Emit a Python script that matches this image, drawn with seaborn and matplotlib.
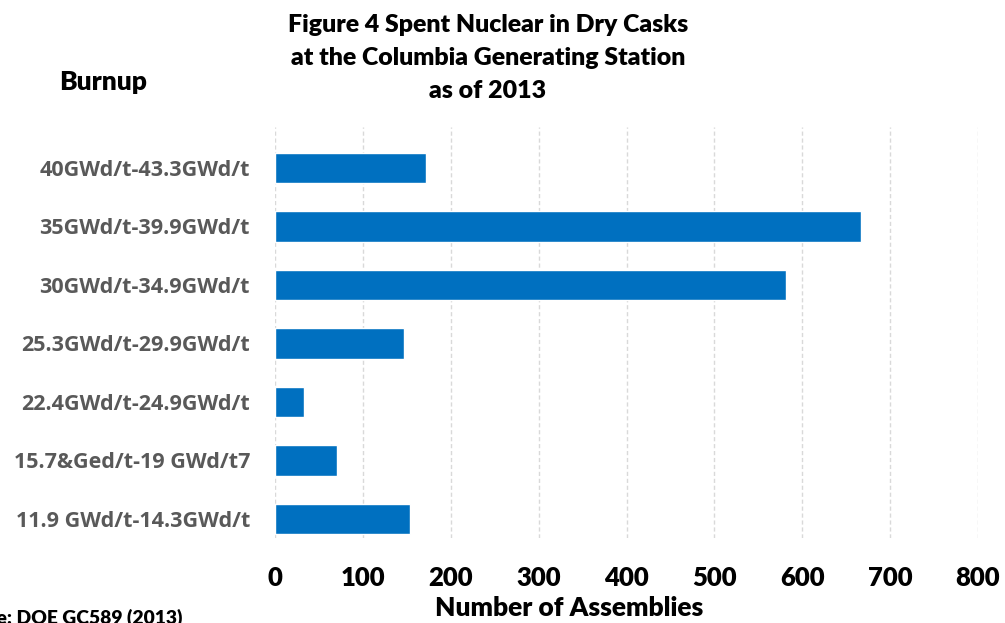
import matplotlib
matplotlib.use("Agg")
import matplotlib.pyplot as plt
import seaborn as sns
import pandas as pd

categories = [
    "40GWd/t-43.3GWd/t",
    "35GWd/t-39.9GWd/t",
    "30GWd/t-34.9GWd/t",
    "25.3GWd/t-29.9GWd/t",
    "22.4GWd/t-24.9GWd/t",
    "15.7&Ged/t-19 GWd/t7",
    "11.9 GWd/t-14.3GWd/t",
]
assemblies = [172, 667, 581, 147, 33, 70, 154]
x_ticks = [0, 100, 200, 300, 400, 500, 600, 700, 800]

df = pd.DataFrame({"Burnup": categories, "Assemblies": assemblies})

sns.set_theme(style="white")
plt.rcParams["font.family"] = ["Lato", "DejaVu Sans"]

fig = plt.figure(figsize=(10.05, 6.23), dpi=100)
ax = fig.add_axes([275 / 1005, (623 - 538) / 623, (978 - 275) / 1005, (538 - 127) / 623])

sns.barplot(data=df, y="Burnup", x="Assemblies", orient="h", color="#0070C0",
            saturation=1, width=0.52, ax=ax, zorder=3)

ax.set_xlim(0, 800)
ax.set_ylim(6.325, -0.70)
ax.set_xticks(x_ticks)
ax.set_xticklabels([str(t) for t in x_ticks], fontsize=18.5, fontweight="heavy", color="black")
ax.set_yticks(range(len(categories)))
ax.set_yticklabels(categories, fontsize=15.5, fontweight="bold", color="#595959",
                   family=["Open Sans", "DejaVu Sans"])
ax.tick_params(axis="x", length=0, pad=20)
ax.tick_params(axis="y", length=0, pad=18)
ax.grid(axis="x", color="#D9D9D9", linestyle=(0, (3, 2)), linewidth=1, zorder=0)
ax.grid(axis="y", visible=False)
for s in ax.spines.values():
    s.set_visible(False)
ax.set_ylabel("")
ax.set_xlabel("")

fig.text(569 / 1005, 1 - 608 / 623, "Number of Assemblies", ha="center", va="center",
         fontsize=19, fontweight="heavy", color="black")
fig.text(488 / 1005, 1 - 58 / 623,
         "Figure 4 Spent Nuclear in Dry Casks\nat the Columbia Generating Station\nas of 2013",
         ha="center", va="center", fontsize=17.9, fontweight="heavy", color="black",
         linespacing=1.62)
fig.text(103 / 1005, 1 - 82 / 623, "Burnup", ha="center", va="center",
         fontsize=19, fontweight="heavy", color="black")
fig.text(182 / 1005, 1 - 609 / 623, "Source: DOE GC589 (2013)", ha="right", va="top",
         fontsize=13.9, fontweight="heavy", color="black")

fig.savefig("out.png", dpi=100)
